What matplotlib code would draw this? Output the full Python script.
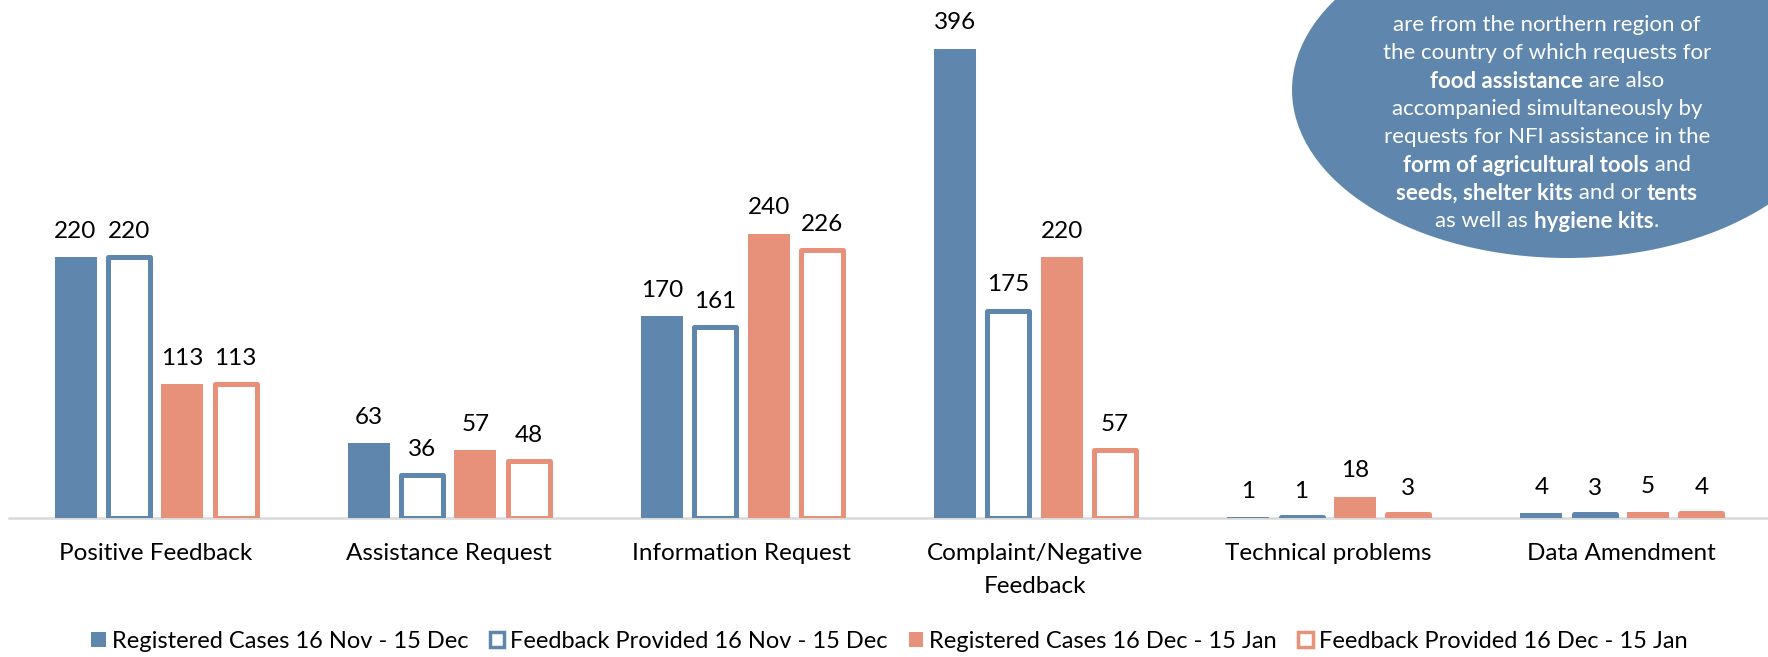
import matplotlib.pyplot as plt
from matplotlib.patches import Ellipse, Patch
import numpy as np

plt.rcParams["font.family"] = ["Lato", "DejaVu Sans"]

categories = ["Positive Feedback", "Assistance Request", "Information Request",
              "Complaint/Negative\nFeedback", "Technical problems", "Data Amendment"]
series_names = ["Registered Cases 16 Nov - 15 Dec", "Feedback Provided 16 Nov - 15 Dec",
                "Registered Cases 16 Dec - 15 Jan", "Feedback Provided 16 Dec - 15 Jan"]
reg_nov = [220, 63, 170, 396, 1, 4]
fb_nov = [220, 36, 161, 175, 1, 3]
reg_dec = [113, 57, 240, 220, 18, 5]
fb_dec = [113, 48, 226, 57, 3, 4]

note_lines = [
    [("Most of the cases registered here", False)],
    [("are from the northern region of", False)],
    [("the country of which requests for", False)],
    [("food assistance", True), (" are also", False)],
    [("accompanied simultaneously by", False)],
    [("requests for NFI assistance in the", False)],
    [("form of agricultural tools", True), (" and", False)],
    [("seeds, shelter kits", True), (" and or ", False), ("tents", True)],
    [("as well as ", False), ("hygiene kits", True), (".", False)],
]

BLUE = "#5F86AD"
ORANGE = "#E8917A"
W, H = 1768, 657

fig = plt.figure(figsize=(W / 100, H / 100), dpi=100)
ax = fig.add_axes([9 / W, 1 - 518 / H, 1 - 9 / W, 518 / H])

x = np.arange(len(categories))
step = 0.182
bw = 0.143
series = [reg_nov, fb_nov, reg_dec, fb_dec]
colors = [BLUE, BLUE, ORANGE, ORANGE]
hollow = [False, True, False, True]

for i, (vals, col, hol) in enumerate(zip(series, colors, hollow)):
    xs = x + (i - 1.5) * step
    if hol:
        bars = ax.bar(xs, vals, bw, facecolor="white", edgecolor=col,
                      linewidth=3.6, joinstyle="round", zorder=3)
    else:
        bars = ax.bar(xs, vals, bw, color=col, linewidth=0, zorder=3)
    for b, v in zip(bars, vals):
        ax.annotate(str(v), (b.get_x() + b.get_width() / 2, v),
                    xytext=(0, 11), textcoords="offset points",
                    ha="center", va="bottom", fontsize=17.5)

ax.set_xlim(-0.5, len(categories) - 0.5)
ax.set_ylim(0, 437)
for s in ["top", "right", "left"]:
    ax.spines[s].set_visible(False)
ax.spines["bottom"].set_color("#D9D9D9")
ax.spines["bottom"].set_linewidth(1.8)
ax.set_yticks([])
ax.set_xticks(x)
ax.set_xticklabels(categories, fontsize=17.5, linespacing=1.68)
ax.tick_params(axis="x", length=0, pad=18)

# legend
handles = [Patch(facecolor=BLUE, edgecolor=BLUE, linewidth=0),
           Patch(facecolor="white", edgecolor=BLUE, linewidth=2.5, joinstyle="round"),
           Patch(facecolor=ORANGE, edgecolor=ORANGE, linewidth=0),
           Patch(facecolor="white", edgecolor=ORANGE, linewidth=2.5, joinstyle="round")]
fig.legend(handles, series_names, loc="center", bbox_to_anchor=(0.503, 1 - 641 / H),
           ncol=4, frameon=False, fontsize=17, handlelength=0.62, handleheight=0.62,
           handletextpad=0.25, columnspacing=0.9)

# note ellipse
ell = Ellipse((1567 / W, 1 - 90 / H), 550 / W, 336 / H, transform=fig.transFigure,
              facecolor=BLUE, edgecolor="none", zorder=5, clip_on=False)
fig.patches.append(ell)

renderer = fig.canvas.get_renderer()
cx = 1547
y0 = -3
dy = 28
for k, line in enumerate(note_lines):
    texts = []
    for seg, bold in line:
        t = fig.text(0, 0, seg, color="white", fontsize=16,
                     fontweight="bold" if bold else "normal",
                     ha="left", va="center", zorder=6)
        texts.append(t)
    widths = [t.get_window_extent(renderer).width for t in texts]
    xp = cx - sum(widths) / 2
    yp = y0 + k * dy - (7 if k == 0 else 0)
    for t, wd in zip(texts, widths):
        t.set_position((xp / W, 1 - yp / H))
        xp += wd

fig.savefig("out.png", dpi=100)
